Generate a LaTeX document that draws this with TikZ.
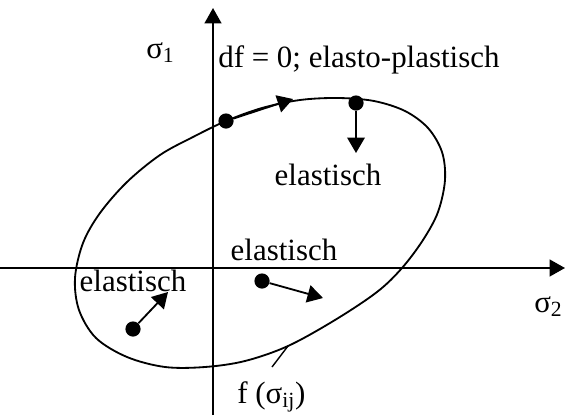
\documentclass[tikz,border=0pt]{standalone}
\usepackage{fontspec}
\setmainfont{Liberation Serif}
\usetikzlibrary{arrows.meta}

\begin{document}
\begin{tikzpicture}[
    x=0.025cm, y=-0.025cm,
    axis/.style={line width=1.4pt, -{Triangle[length=11pt, width=12pt]}},
    vec/.style={line width=1.3pt, -{Triangle[length=11pt, width=12.5pt]}},
    dot/.style={circle, fill=black, inner sep=0pt, minimum size=0.38cm},
    label/.style={inner sep=0pt, font=\fontsize{22}{26}\selectfont},
]
\useasboundingbox (0,0) rectangle (565,415);

% --- Axes ---
\coordinate (xstart) at (0,268);
\coordinate (xend) at (565,268);
\coordinate (ystart) at (213,415);
\coordinate (yend) at (213,8);
\draw[axis] (xstart) -- (xend);
\draw[axis] (ystart) -- (yend);

\node[label, anchor=base west] (sig1) at (146,58) {σ\textsubscript{1}};
\node[label, anchor=base west] (sig2) at (534,312) {σ\textsubscript{2}};

% --- Yield surface ---
\draw[line width=1.3pt] plot[smooth cycle, tension=0.55] coordinates {
    (226,121) (262,108) (300,100) (338,98) (374,101) (405,111) (428,128)
    (442,152) (445,180) (438,212) (423,240) (402,268) (377,292) (335,320)
    (288,346) (245,361) (205,367) (165,367) (127,357) (96,338)
    (79,310) (75,278) (83,243) (100,213) (127,182) (160,155) (193,137)};

\coordinate (ftick) at (288,346);
\coordinate (fend) at (272,367);
\draw[line width=1pt] (ftick) -- (fend);
\node[label, anchor=base west] (flabel) at (237,403) {f (σ\textsubscript{ij})};

% --- Stress states ---
\node[dot] (pa) at (226,121) {};
\node[dot] (pb) at (356,103) {};
\node[dot] (pc) at (262,281) {};
\node[dot] (pd) at (133,329) {};

\coordinate (ta) at (293,99);
\coordinate (tb) at (356,153);
\coordinate (tc) at (323,298);
\coordinate (td) at (168,292);

\draw[vec] (pa) -- (ta);
\draw[vec] (pb) -- (tb);
\draw[vec] (pc) -- (tc);
\draw[vec] (pd) -- (td);

% Labels
\node[label, anchor=base west] (plastic) at (218,67) {df = 0; elasto-plastisch};
\node[label, anchor=base] (elup) at (328,185) {elastisch};
\node[label, anchor=base] (elmid) at (284,260) {elastisch};
\node[label, anchor=base] (elleft) at (133,291) {elastisch};

\end{tikzpicture}
\end{document}
